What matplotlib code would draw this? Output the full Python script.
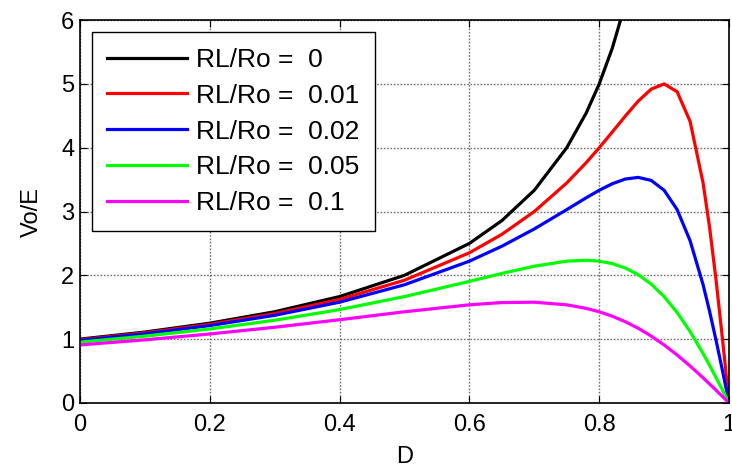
import numpy as np
import matplotlib.pyplot as plt

plt.rcParams["font.family"] = ["Liberation Sans", "DejaVu Sans"]

# duty cycle D and Vo/E for each RL/Ro
duty = [0, 0.1, 0.2, 0.3, 0.4, 0.5, 0.6, 0.65, 0.7, 0.75, 0.78, 0.8, 0.82, 0.84,
        0.86, 0.88, 0.9, 0.92, 0.94, 0.96, 0.97, 0.98, 0.99, 1.0]
gain_0 = [1.0, 1.111, 1.25, 1.429, 1.667, 2.0, 2.5, 2.857, 3.333, 4.0, 4.545, 5.0,
          5.556, 6.25] + [np.nan] * 10
gain_001 = [0.990, 1.098, 1.231, 1.400, 1.622, 1.923, 2.353, 2.642, 3.0, 3.448,
            3.767, 4.0, 4.245, 4.494, 4.730, 4.918, 5.0, 4.878, 4.412, 3.448,
            2.752, 1.923, 0.990, 0.0]
gain_002 = [0.980, 1.084, 1.212, 1.373, 1.579, 1.852, 2.222, 2.456, 2.727, 3.030,
            3.216, 3.333, 3.435, 3.509, 3.535, 3.488, 3.333, 3.030, 2.542, 1.852,
            1.435, 0.980, 0.498, 0.0]
gain_005 = [0.952, 1.047, 1.159, 1.296, 1.463, 1.667, 1.905, 2.029, 2.143, 2.222,
            2.236, 2.222, 2.184, 2.116, 2.011, 1.863, 1.667, 1.418, 1.119, 0.775,
            0.589, 0.397, 0.200, 0.0]
gain_01 = [0.909, 0.989, 1.081, 1.186, 1.304, 1.429, 1.538, 1.573, 1.579, 1.538,
           1.482, 1.429, 1.360, 1.274, 1.171, 1.049, 0.909, 0.752, 0.579, 0.394,
           0.297, 0.199, 0.100, 0.0]

series = [gain_0, gain_001, gain_002, gain_005, gain_01]
labels = ["RL/Ro =  0", "RL/Ro =  0.01", "RL/Ro =  0.02", "RL/Ro =  0.05", "RL/Ro =  0.1"]
colors = ["black", "red", "blue", "#00ff00", "magenta"]

fig = plt.figure(figsize=(7.32, 4.68), dpi=100)
ax = fig.add_axes([0.109, 0.139, 0.887, 0.818])

for vals, lab, col in zip(series, labels, colors):
    ax.plot(duty, vals, color=col, lw=2.3, label=lab)

ax.set_xlim(0, 1)
ax.set_ylim(0, 6)
ax.set_xticks([0, 0.2, 0.4, 0.6, 0.8, 1])
ax.set_xticklabels(["0", "0.2", "0.4", "0.6", "0.8", "1"])
ax.set_yticks(range(7))
ax.tick_params(direction="in", length=5, labelsize=17, top=True, right=True)
ax.tick_params(axis="x", pad=8)
ax.tick_params(axis="y", pad=4)
ax.grid(True, color="#707070", linestyle=(0, (1.2, 1.2)), linewidth=1.0)
ax.set_axisbelow(True)
for sp in ax.spines.values():
    sp.set_linewidth(1.2)

ax.set_xlabel("D", fontsize=17, labelpad=7)
ax.set_ylabel("Vo/E", fontsize=17, labelpad=13)

leg = ax.legend(loc="upper left", fontsize=19, handlelength=3.0, fancybox=False,
                framealpha=1, edgecolor="black", borderaxespad=0.45,
                labelspacing=0.45, handletextpad=0.34, borderpad=0.6)
leg.get_frame().set_linewidth(1.0)

fig.savefig("out.png", dpi=100)
